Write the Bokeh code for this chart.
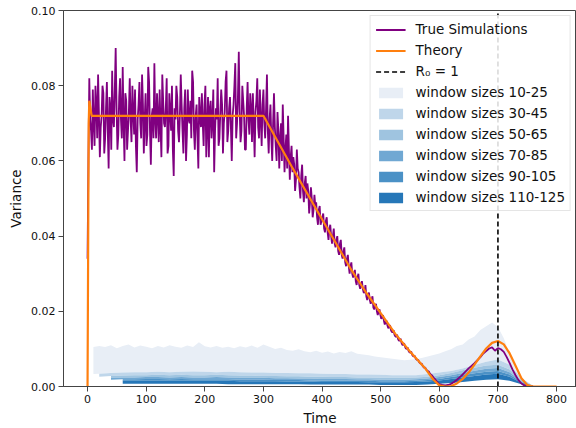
from bokeh.plotting import figure
from bokeh.models import Range1d, Legend, LegendItem, FixedTicker, PrintfTickFormatter
from bokeh.embed import file_html
from bokeh.resources import INLINE

# ---------------- data ----------------
# True simulation variance, plateau samples at t = 0..297 (step 3)
sim_plateau = [0.034, 0.082, 0.068, 0.079, 0.064, 0.075, 0.083, 0.061, 0.072, 0.078,
               0.066, 0.081, 0.058, 0.074, 0.084, 0.069, 0.090, 0.063, 0.077, 0.071,
               0.085, 0.060, 0.076, 0.068, 0.082, 0.065, 0.073, 0.079, 0.057, 0.075,
               0.070, 0.083, 0.062, 0.078, 0.067, 0.081, 0.059, 0.074, 0.086, 0.066,
               0.072, 0.079, 0.061, 0.076, 0.069, 0.082, 0.064, 0.073, 0.080, 0.056,
               0.071, 0.077, 0.065, 0.083, 0.068, 0.074, 0.060, 0.079, 0.070, 0.066,
               0.081, 0.063, 0.075, 0.058, 0.072, 0.078, 0.064, 0.080, 0.069, 0.061,
               0.076, 0.071, 0.057, 0.074, 0.082, 0.066, 0.079, 0.062, 0.073, 0.084,
               0.068, 0.077, 0.060, 0.075, 0.086, 0.070, 0.089, 0.065, 0.080, 0.072,
               0.063, 0.081, 0.067, 0.074, 0.078, 0.061, 0.076, 0.069, 0.079, 0.064]
# in-between samples at t = 1.5..298.5 (step 3)
sim_plateau_mid = [0.060, 0.071, 0.063, 0.070, 0.080, 0.066, 0.072, 0.069, 0.080, 0.062,
                   0.074, 0.068, 0.077, 0.063, 0.071, 0.079, 0.074, 0.067, 0.082, 0.066,
                   0.070, 0.078, 0.063, 0.073, 0.071, 0.080, 0.067, 0.064, 0.071, 0.081,
                   0.066, 0.075, 0.071, 0.064, 0.085, 0.068, 0.072, 0.066, 0.071, 0.078,
                   0.065, 0.069, 0.083, 0.070, 0.074, 0.062, 0.078, 0.068, 0.063, 0.074,
                   0.080, 0.068, 0.072, 0.075, 0.062, 0.079, 0.067, 0.071, 0.076, 0.084,
                   0.068, 0.072, 0.066, 0.077, 0.069, 0.070, 0.075, 0.061, 0.077, 0.074,
                   0.066, 0.079, 0.068, 0.071, 0.064, 0.073, 0.075, 0.070, 0.081, 0.065,
                   0.074, 0.069, 0.072, 0.080, 0.066, 0.077, 0.073, 0.068, 0.076, 0.063,
                   0.074, 0.071, 0.078, 0.065, 0.070, 0.073, 0.082, 0.066, 0.071, 0.075]
# decline: t = 300..597 (step 3)
sim_decline = [0.079, 0.066, 0.083, 0.062, 0.075, 0.060, 0.078, 0.064, 0.073, 0.058,
               0.070, 0.075, 0.057, 0.067, 0.072, 0.055, 0.064, 0.061, 0.052, 0.063,
               0.057, 0.050, 0.059, 0.049, 0.056, 0.054, 0.046, 0.053, 0.045, 0.051,
               0.049, 0.043, 0.048, 0.044, 0.046, 0.041, 0.045, 0.039, 0.043, 0.038,
               0.042, 0.037, 0.040, 0.035, 0.039, 0.034, 0.037, 0.032, 0.035, 0.030,
               0.033, 0.029, 0.031, 0.027, 0.030, 0.026, 0.028, 0.025, 0.027, 0.023,
               0.025, 0.022, 0.024, 0.0205, 0.022, 0.019, 0.0205, 0.018, 0.019, 0.0165,
               0.0175, 0.0155, 0.0163, 0.0145, 0.0150, 0.0133, 0.0138, 0.0122, 0.0127, 0.0111,
               0.0115, 0.0101, 0.0104, 0.0091, 0.0093, 0.0081, 0.0082, 0.0072, 0.0071, 0.0062,
               0.0061, 0.0052, 0.0050, 0.0043, 0.0040, 0.0033, 0.0029, 0.0022, 0.0017, 0.0011]
# in-between samples at t = 301.5..598.5 (step 3)
sim_decline_mid = [0.070, 0.074, 0.068, 0.071, 0.066, 0.070, 0.069, 0.060, 0.068, 0.066,
                   0.060, 0.066, 0.063, 0.058, 0.063, 0.061, 0.057, 0.059, 0.055, 0.058,
                   0.053, 0.056, 0.052, 0.054, 0.050, 0.052, 0.049, 0.050, 0.047, 0.048,
                   0.045, 0.047, 0.043, 0.045, 0.042, 0.044, 0.041, 0.042, 0.040, 0.040,
                   0.038, 0.039, 0.036, 0.038, 0.035, 0.036, 0.033, 0.034, 0.032, 0.032,
                   0.030, 0.030, 0.028, 0.029, 0.027, 0.027, 0.026, 0.025, 0.024, 0.024,
                   0.023, 0.023, 0.021, 0.0215, 0.020, 0.020, 0.019, 0.0185, 0.0175, 0.017,
                   0.0162, 0.0158, 0.0150, 0.0145, 0.0138, 0.0133, 0.0127, 0.0122, 0.0116, 0.0111,
                   0.0106, 0.0100, 0.0095, 0.0090, 0.0085, 0.0080, 0.0075, 0.0070, 0.0065, 0.0060,
                   0.0055, 0.0050, 0.0046, 0.0041, 0.0036, 0.0031, 0.0025, 0.0020, 0.0014, 0.0008]
# tail: t = 600..760 (step 5)
sim_tail = [0.0006, 0.0004, 0.0003, 0.0004, 0.0007, 0.0012, 0.0018, 0.0025, 0.0032, 0.0040,
            0.0048, 0.0055, 0.0062, 0.0070, 0.0078, 0.0088, 0.0094, 0.0101, 0.0104, 0.0095,
            0.0102, 0.0099, 0.0092, 0.0078, 0.0062, 0.0045, 0.0030, 0.0017, 0.0008, 0.0003,
            0.0001, 0.0, 0.0]

# Theory curve
theory_t = [0, 2, 3, 7, 300, 350, 400, 450, 475, 500, 525, 550, 575, 590, 600, 610, 620,
            630, 640, 650, 660, 670, 680, 690, 700, 710, 720, 730, 740, 750, 760, 800]
theory_v = [0.0, 0.070, 0.076, 0.072, 0.072, 0.058, 0.0445, 0.031, 0.025, 0.0195, 0.014,
            0.0093, 0.0050, 0.0018, 0.0003, 0.0, 0.0001, 0.0008, 0.0020, 0.0037, 0.0058,
            0.0080, 0.0101, 0.0116, 0.0121, 0.0112, 0.0088, 0.0055, 0.0022, 0.0004, 0.0, 0.0]

r0_time = 700

# Window-size bands
light_t = list(range(10, 751, 10))
light_upper = [0.0105, 0.0108, 0.0105, 0.0110, 0.0102, 0.0108, 0.0112, 0.0104, 0.0109, 0.0106,
               0.0102, 0.0108, 0.0104, 0.0110, 0.0106, 0.0103, 0.0109, 0.0105, 0.0118, 0.0107,
               0.0104, 0.0108, 0.0103, 0.0106, 0.0102, 0.0107, 0.0104, 0.0109, 0.0103, 0.0112,
               0.0106, 0.0100, 0.0103, 0.0097, 0.0095, 0.0099, 0.0094, 0.0091, 0.0095, 0.0090,
               0.0093, 0.0088, 0.0092, 0.0089, 0.0094, 0.0087, 0.0085, 0.0083, 0.0080, 0.0078,
               0.0076, 0.0074, 0.0072, 0.0070, 0.0071, 0.0073, 0.0076, 0.0080, 0.0084, 0.0088,
               0.0094, 0.0099, 0.0108, 0.0112, 0.0125, 0.0133, 0.0150, 0.0160, 0.0170, 0.0158,
               0.0128, 0.0088, 0.0048, 0.0015, 0.0002]
light_start_lower = 0.0033

band_t = [20, 40, 60, 80, 100, 120, 140, 160, 180, 200, 220, 240, 260, 280, 300, 320, 340, 360, 380,
          400, 420, 440, 460, 480, 500, 520, 540, 560, 580, 600, 620, 640, 660, 680, 700, 720, 740, 760]
b1 = [0.0034, 0.0036, 0.0037, 0.0038, 0.0038, 0.0039, 0.0038, 0.0039, 0.0040, 0.0039, 0.0038, 0.0039,
      0.0038, 0.0037, 0.0037, 0.0036, 0.0036, 0.0035, 0.0035, 0.0034, 0.0033, 0.0033, 0.0032, 0.0032,
      0.0031, 0.0030, 0.0030, 0.0030, 0.0033, 0.0037, 0.0041, 0.0048, 0.0057, 0.0066, 0.0072, 0.0058,
      0.0022, 0.0002]
b2 = [0.0026, 0.0028, 0.0029, 0.0030, 0.0030, 0.0031, 0.0030, 0.0031, 0.0030, 0.0030, 0.0031, 0.0030,
      0.0029, 0.0029, 0.0028, 0.0028, 0.0027, 0.0027, 0.0026, 0.0026, 0.0025, 0.0025, 0.0024, 0.0024,
      0.0023, 0.0023, 0.0023, 0.0024, 0.0026, 0.0030, 0.0036, 0.0043, 0.0050, 0.0056, 0.0058, 0.0045,
      0.0017, 0.0001]
b3 = [0.0021, 0.0023, 0.0024, 0.0024, 0.0025, 0.0025, 0.0024, 0.0025, 0.0024, 0.0024, 0.0025, 0.0024,
      0.0023, 0.0023, 0.0023, 0.0022, 0.0022, 0.0021, 0.0021, 0.0020, 0.0020, 0.0020, 0.0019, 0.0019,
      0.0018, 0.0018, 0.0018, 0.0019, 0.0021, 0.0025, 0.0030, 0.0036, 0.0042, 0.0047, 0.0049, 0.0038,
      0.0014, 0.0001]
b4 = [0.0017, 0.0018, 0.0019, 0.0019, 0.0020, 0.0020, 0.0019, 0.0020, 0.0019, 0.0019, 0.0019, 0.0019,
      0.0018, 0.0018, 0.0018, 0.0017, 0.0017, 0.0017, 0.0016, 0.0016, 0.0016, 0.0015, 0.0015, 0.0015,
      0.0014, 0.0014, 0.0014, 0.0015, 0.0017, 0.0020, 0.0025, 0.0030, 0.0035, 0.0039, 0.0041, 0.0032,
      0.0012, 0.0001]
b5 = [0.0013, 0.0014, 0.0015, 0.0015, 0.0015, 0.0016, 0.0015, 0.0015, 0.0015, 0.0015, 0.0015, 0.0015,
      0.0014, 0.0014, 0.0014, 0.0014, 0.0013, 0.0013, 0.0013, 0.0012, 0.0012, 0.0012, 0.0012, 0.0011,
      0.0011, 0.0011, 0.0011, 0.0012, 0.0013, 0.0016, 0.0020, 0.0024, 0.0028, 0.0032, 0.0034, 0.0026,
      0.0010, 0.0001]
b6 = [0.0007, 0.0007, 0.0007, 0.0007, 0.0007, 0.0007, 0.0007, 0.0007, 0.0007, 0.0007, 0.0007, 0.0006,
      0.0006, 0.0006, 0.0006, 0.0006, 0.0006, 0.0006, 0.0005, 0.0005, 0.0005, 0.0005, 0.0005, 0.0005,
      0.0004, 0.0004, 0.0004, 0.0004, 0.0005, 0.0007, 0.0009, 0.0012, 0.0015, 0.0018, 0.0019, 0.0015,
      0.0006, 0.0]

band_labels = ["window sizes 10-25", "window sizes 30-45", "window sizes 50-65",
               "window sizes 70-85", "window sizes 90-105", "window sizes 110-125"]
band_colors = ["#e8eef6", "#bfd6ea", "#9fc4e0", "#70a8d3", "#4b91c6", "#2677b8"]
band_start = [0, 0, 1, 1, 2, 2]   # first index in band_t for each band

x_ticks = [0, 100, 200, 300, 400, 500, 600, 700, 800]
y_ticks = [0.0, 0.02, 0.04, 0.06, 0.08, 0.10]

FONT = "DejaVu Sans"

# ---------------- figure ----------------
p = figure(width=576, height=428, output_backend="svg", toolbar_location=None,
           x_range=Range1d(-41, 834), y_range=Range1d(0, 0.1),
           min_border_left=63, min_border_right=0, min_border_top=10, min_border_bottom=41)
p.xgrid.visible = False
p.ygrid.visible = False
p.outline_line_color = "#444444"
p.outline_line_width = 1

for ax in (p.xaxis[0], p.yaxis[0]):
    ax.axis_line_color = "#444444"
    ax.major_tick_line_color = "#444444"
    ax.major_tick_out = 5
    ax.major_tick_in = 0
    ax.minor_tick_line_color = None
    ax.major_label_text_font = FONT
    ax.major_label_text_font_size = "11px"
    ax.major_label_text_color = "#111111"
    ax.axis_label_text_font = FONT
    ax.axis_label_text_font_size = "13.5px"
    ax.axis_label_text_font_style = "normal"
    ax.axis_label_text_color = "#111111"
    ax.major_label_standoff = 3
    ax.axis_label_standoff = 4

p.xaxis[0].ticker = FixedTicker(ticks=x_ticks)
p.yaxis[0].ticker = FixedTicker(ticks=y_ticks)
p.yaxis[0].formatter = PrintfTickFormatter(format="%.2f")
p.xaxis[0].axis_label = "Time"
p.yaxis[0].axis_label = "Variance"

# bands
bounds = [b1, b2, b3, b4, b5, b6]
band_renderers = []
lt_low_t = [light_t[0]] + band_t
lt_low_v = [light_start_lower] + b1
xs = light_t + lt_low_t[::-1]
ys = light_upper + lt_low_v[::-1]
band_renderers.append(p.patch(xs, ys, fill_color=band_colors[0], line_color=None))
for k in range(1, 6):
    s = band_start[k]
    tt = band_t[s:]
    up = bounds[k - 1][s:]
    lo = bounds[k][s:]
    band_renderers.append(p.patch(tt + tt[::-1], up + lo[::-1],
                                  fill_color=band_colors[k], line_color=None))

# simulations: merge regular and in-between samples in time order
pts = ([(3 * i, v) for i, v in enumerate(sim_plateau)] +
       [(1.5 + 3 * i, v) for i, v in enumerate(sim_plateau_mid)] +
       [(300 + 3 * i, v) for i, v in enumerate(sim_decline)] +
       [(301.5 + 3 * i, v) for i, v in enumerate(sim_decline_mid)] +
       [(600 + 5 * i, v) for i, v in enumerate(sim_tail)])
pts.sort()
sim_t = [a for a, _ in pts]
sim_v = [b for _, b in pts]
r_sim = p.line(sim_t, sim_v, line_color="purple", line_width=1.8)

r_th = p.line(theory_t, theory_v, line_color="#ff7f0e", line_width=2.2)

r_r0 = p.line([r0_time, r0_time], [0, 0.1], line_color="black", line_width=1.6, line_dash="5 3")

items = [LegendItem(label="True Simulations", renderers=[r_sim]),
         LegendItem(label="Theory", renderers=[r_th]),
         LegendItem(label="R\u2080 = 1", renderers=[r_r0])]
for lab, r in zip(band_labels, band_renderers):
    items.append(LegendItem(label=lab, renderers=[r]))

legend = Legend(items=items, location="top_right", margin=5, padding=5, spacing=5,
                glyph_width=30, glyph_height=13, label_height=13, label_standoff=10,
                label_text_font=FONT, label_text_font_size="13.5px", label_text_color="#111111",
                border_line_color="#cccccc", border_line_width=1,
                background_fill_color="white", background_fill_alpha=0.85)
p.add_layout(legend)

open("out.html", "w").write(file_html(p, INLINE))
